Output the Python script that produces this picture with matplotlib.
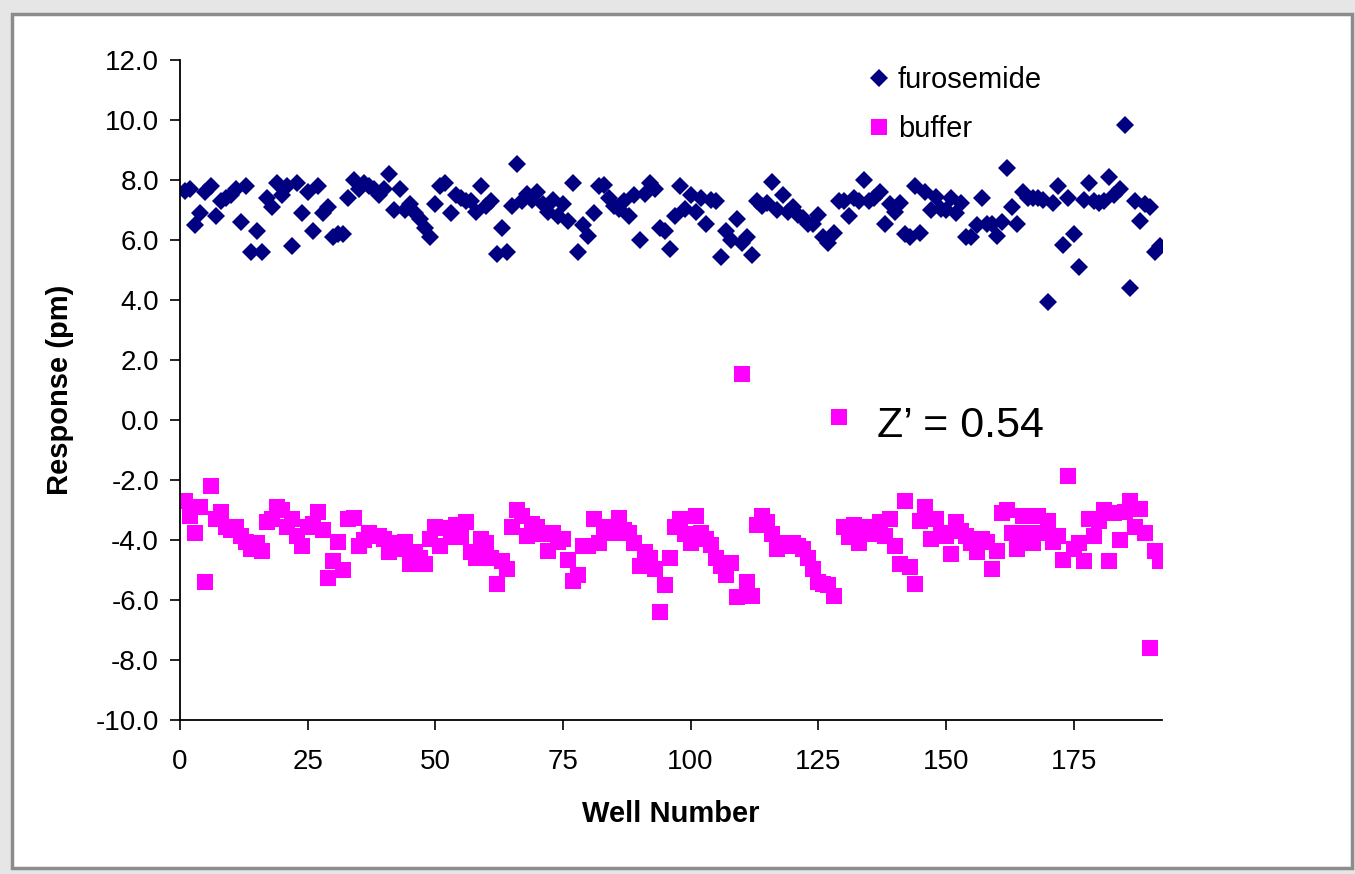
import matplotlib
matplotlib.use("Agg")
import matplotlib.pyplot as plt
from matplotlib.patches import Rectangle
import numpy as np

plt.rcParams['font.family'] = ['Liberation Sans', 'DejaVu Sans']

wells = np.arange(1, 193)

furosemide = [
    7.63, 7.7, 6.5, 6.9, 7.6, 7.8, 6.8, 7.3, 7.4, 7.5,
    7.7, 6.6, 7.8, 5.6, 6.3, 5.6, 7.4, 7.1, 7.9, 7.5,
    7.8, 5.8, 7.9, 6.9, 7.6, 6.3, 7.8, 6.9, 7.1, 6.1,
    6.2, 6.2, 7.4, 8.0, 7.7, 7.9, 7.8, 7.7, 7.5, 7.7,
    8.2, 7.0, 7.7, 7.0, 7.2, 6.9, 6.7, 6.4, 6.1, 7.2,
    7.8, 7.9, 6.9, 7.5, 7.4, 7.3, 7.3, 6.95, 7.8, 7.15,
    7.3, 5.55, 6.4, 5.6, 7.15, 8.55, 7.3, 7.55, 7.35, 7.6,
    7.2, 6.95, 7.35, 6.8, 7.2, 6.65, 7.9, 5.6, 6.5, 6.15,
    6.9, 7.8, 7.85, 7.4, 7.15, 7.05, 7.3, 6.8, 7.5, 6.0,
    7.55, 7.9, 7.7, 6.4, 6.3, 5.7, 6.8, 7.8, 7.05, 7.5,
    6.95, 7.4, 6.55, 7.35, 7.3, 5.45, 6.3, 6.0, 6.7, 5.9,
    6.1, 5.5, 7.3, 7.15, 7.25, 7.95, 7.0, 7.5, 6.95, 7.1,
    6.85, 6.75, 6.55, 6.55, 6.85, 6.1, 5.9, 6.25, 7.3, 7.3,
    6.8, 7.4, 7.3, 8.0, 7.3, 7.4, 7.6, 6.55, 7.2, 6.95,
    7.25, 6.2, 6.1, 7.8, 6.25, 7.6, 7.0, 7.45, 7.05, 7.0,
    7.4, 6.9, 7.25, 6.1, 6.1, 6.5, 7.4, 6.55, 6.55, 6.15,
    6.6, 8.4, 7.1, 6.55, 7.6, 7.4, 7.4, 7.4, 7.35, 3.95,
    7.25, 7.8, 5.85, 7.4, 6.2, 5.1, 7.35, 7.9, 7.3, 7.25,
    7.3, 8.1, 7.5, 7.7, 9.85, 4.4, 7.3, 6.65, 7.2, 7.1,
    5.6, 5.8,
]

buffer = [
    -2.7, -3.2, -3.75, -2.9, -5.4, -2.2, -3.3, -3.05, -3.55, -3.65,
    -3.55, -3.85, -4.05, -4.3, -4.1, -4.35, -3.4, -3.3, -2.9, -3.0,
    -3.55, -3.3, -3.85, -4.2, -3.55, -3.45, -3.05, -3.65, -5.25, -4.7,
    -4.05, -5.0, -3.3, -3.25, -4.2, -4.0, -3.75, -3.85, -3.85, -3.95,
    -4.4, -4.1, -4.3, -4.05, -4.8, -4.4, -4.6, -4.8, -3.95, -3.55,
    -4.2, -3.6, -3.9, -3.5, -3.9, -3.4, -4.4, -4.6, -3.95, -4.1,
    -4.6, -5.45, -4.7, -4.95, -3.55, -3.0, -3.2, -3.85, -3.45, -3.55,
    -3.8, -4.35, -3.75, -4.05, -3.95, -4.65, -5.35, -5.15, -4.2, -4.2,
    -3.3, -4.1, -3.75, -3.55, -3.75, -3.25, -3.65, -3.75, -4.1, -4.85,
    -4.4, -4.6, -4.95, -6.4, -5.5, -4.6, -3.55, -3.3, -3.8, -4.1,
    -3.2, -3.75, -3.95, -4.15, -4.6, -4.85, -5.15, -4.75, -5.9, 1.55,
    -5.4, -5.85, -3.5, -3.2, -3.4, -3.8, -4.3, -4.1, -4.2, -4.1,
    -4.2, -4.3, -4.6, -4.95, -5.4, -5.45, -5.5, -5.85, 0.1, -3.55,
    -3.9, -3.5, -4.1, -3.55, -3.8, -3.6, -3.4, -3.85, -3.3, -4.2,
    -4.8, -2.7, -4.9, -5.45, -3.35, -2.9, -3.95, -3.3, -3.75, -3.85,
    -4.45, -3.4, -3.7, -3.85, -4.1, -4.4, -3.95, -4.05, -4.95, -4.35,
    -3.1, -3.0, -3.75, -4.3, -3.2, -3.75, -4.1, -3.2, -3.75, -3.35,
    -4.05, -3.85, -4.65, -1.85, -4.3, -4.1, -4.7, -3.3, -3.85, -3.35,
    -3.0, -4.7, -3.1, -4.0, -3.05, -2.7, -3.55, -2.95, -3.75, -7.6,
    -4.35, -4.7,
]

x_ticks = [0, 25, 50, 75, 100, 125, 150, 175]
y_ticks = np.arange(-10, 12.1, 2)

fig = plt.figure(figsize=(13.55, 8.74), dpi=100)
fig.patch.set_facecolor('#e6e6e6')

# background axes holding the white slide panel with a grey border
bg = fig.add_axes([0, 0, 1, 1], zorder=-5)
bg.set_axis_off()
bg.set_xlim(0, 1355)
bg.set_ylim(874, 0)
bg.add_patch(Rectangle((12, 14), 1340, 854, facecolor='white',
                       edgecolor='#8c8c8c', linewidth=2.5))

ax = fig.add_axes([0.1328, 0.1762, 0.7247, 0.7551])
ax.set_facecolor('none')

ax.plot(wells, furosemide, linestyle='none', marker='D', markersize=9.5,
        color='#000080', markeredgewidth=0, label='furosemide')
ax.plot(wells, buffer, linestyle='none', marker='s', markersize=11.5,
        color='#ff00ff', markeredgewidth=0, label='buffer')

ax.set_xlim(0, 192.3)
ax.set_ylim(-10, 12)
ax.set_xticks(x_ticks)
ax.set_yticks(y_ticks)
ax.set_yticklabels(['%.1f' % v for v in y_ticks])

for s in ['top', 'right']:
    ax.spines[s].set_visible(False)
for s in ['left', 'bottom']:
    ax.spines[s].set_linewidth(1.3)
    ax.spines[s].set_color('black')

ax.tick_params(axis='both', labelsize=20, direction='out', length=7, width=1.2)
ax.tick_params(axis='x', pad=14)
ax.tick_params(axis='y', pad=8)

ax.set_xlabel('Well Number', fontsize=21, fontweight='bold', labelpad=18)
ax.set_ylabel('Response (pm)', fontsize=21, fontweight='bold', labelpad=16)

ax.text(136.5, -0.2, 'Z\u2019 = 0.54', fontsize=31, ha='left', va='center')

ax.legend(loc='upper left', bbox_to_anchor=(0.682, 1.013), frameon=False,
          fontsize=21, borderpad=0, handletextpad=0.15, labelspacing=0.72,
          markerscale=1.0, handlelength=1.0)

fig.savefig('out.png', dpi=100, facecolor=fig.get_facecolor())
